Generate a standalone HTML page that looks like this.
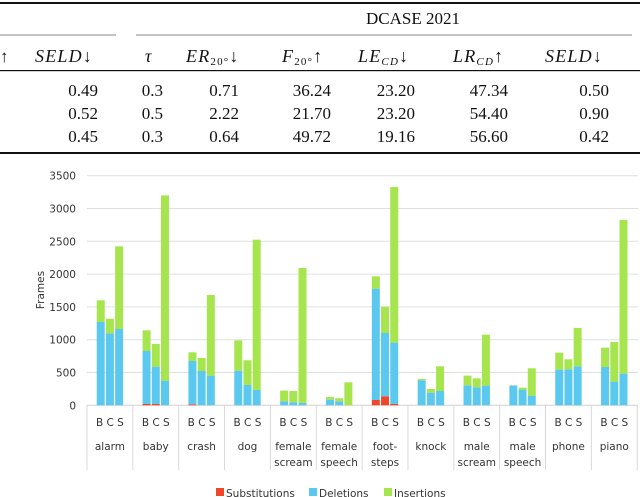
<!DOCTYPE html>
<html><head><meta charset="utf-8"><style>
body{margin:0;background:#fff;}
svg{display:block;}
.t{font-family:"Liberation Serif",serif;font-size:17px;fill:#111;}
.i{font-style:italic;letter-spacing:1.2px;font-size:18px;}
.c{font-family:"DejaVu Sans","Liberation Sans",sans-serif;font-size:10.5px;fill:#333;}
</style></head><body>
<svg id="root" width="640" height="497" viewBox="0 0 640 497">
<g>
<rect x="0" y="2" width="640" height="2" fill="#111"/>
<text class="t" x="413" y="24" text-anchor="middle">DCASE 2021</text>
<rect x="0" y="34.5" width="116" height="1" fill="#888"/>
<rect x="136" y="34.5" width="496" height="1" fill="#888"/>
<g>
<text class="t" x="0" y="62">↑</text>
<text class="t i" x="35" y="62">SELD<tspan font-style="normal">↓</tspan></text>
<text class="t i" x="145" y="62">τ</text>
<text class="t i" x="186" y="62">ER<tspan font-size="11" dy="3" font-style="normal">20°</tspan><tspan dy="-3" font-style="normal">↓</tspan></text>
<text class="t i" x="282" y="62">F<tspan font-size="11" dy="3" font-style="normal">20°</tspan><tspan dy="-3" font-style="normal">↑</tspan></text>
<text class="t i" x="358" y="62">LE<tspan font-size="11" dy="3">CD</tspan><tspan dy="-3" font-style="normal">↓</tspan></text>
<text class="t i" x="453" y="62">LR<tspan font-size="11" dy="3">CD</tspan><tspan dy="-3" font-style="normal">↑</tspan></text>
<text class="t i" x="545" y="62">SELD<tspan font-style="normal">↓</tspan></text>
</g>
<rect x="0" y="70" width="640" height="1.2" fill="#111"/>
<g text-anchor="end">
<text class="t" x="98" y="96">0.49</text><text class="t" x="163" y="96">0.3</text><text class="t" x="239" y="96">0.71</text><text class="t" x="331" y="96">36.24</text><text class="t" x="415" y="96">23.20</text><text class="t" x="508" y="96">47.34</text><text class="t" x="609" y="96">0.50</text>
<text class="t" x="98" y="119">0.52</text><text class="t" x="163" y="119">0.5</text><text class="t" x="239" y="119">2.22</text><text class="t" x="331" y="119">21.70</text><text class="t" x="415" y="119">23.20</text><text class="t" x="508" y="119">54.40</text><text class="t" x="609" y="119">0.90</text>
<text class="t" x="98" y="142">0.45</text><text class="t" x="163" y="142">0.3</text><text class="t" x="239" y="142">0.64</text><text class="t" x="331" y="142">49.72</text><text class="t" x="415" y="142">19.16</text><text class="t" x="508" y="142">56.60</text><text class="t" x="609" y="142">0.42</text>
</g>
<rect x="0" y="152" width="640" height="2" fill="#111"/>
</g>
<g id="chart"></g>
</svg>
<script>
const categories=["alarm","baby","crash","dog","female\nscream","female\nspeech","foot-\nsteps","knock","male\nscream","male\nspeech","phone","piano"];
const systems=["B","C","S"];
const subs=[[0,0,0],[20,20,0],[15,0,0],[0,0,0],[0,0,0],[0,0,0],[81,137,20],[0,0,0],[0,0,0],[0,0,0],[0,0,0],[0,0,0]];
const dels=[[1270,1097,1163],[808,569,376],[661,523,452],[528,310,234],[61,46,36],[86,61,0],[1697,965,935],[381,193,218],[305,274,300],[300,239,147],[544,549,594],[584,361,483]];
const ins=[[330,223,1260],[315,346,2824],[132,198,1229],[462,376,2291],[163,172,2057],[41,46,350],[188,402,2372],[20,56,376],[147,137,777],[5,30,417],[259,152,585],[295,604,2341]];
const yTicks=[0,500,1000,1500,2000,2500,3000,3500];
const legendLabels=["Substitutions","Deletions","Insertions"];
const colors=["#f0462a","#5bc8f0","#a6e54e"];
const NS="http://www.w3.org/2000/svg";
const g=document.getElementById('chart');
const X0=87,GW=45.85,Y0=405.3,YMAX=3500,YTOP=175.7;
const y=v=>Y0-(v/YMAX)*(Y0-YTOP);
const gx=i=>X0+i*GW;
function mk(t,a,txt){const e=document.createElementNS(NS,t);for(const k in a)e.setAttribute(k,a[k]);if(txt!==undefined)e.textContent=txt;g.appendChild(e);return e;}
yTicks.forEach(v=>{
  const l=mk('line',{x1:X0,x2:638,y1:y(v),y2:y(v),stroke:v===0?'#d0d0d0':'#e0e0e0','stroke-width':1});
  
  
  const t=mk('text',{x:76,y:y(v)+4,'text-anchor':'end',class:'c'},String(v));
  
  
});
const yt=mk('text',{x:0,y:0,class:'c','text-anchor':'middle',transform:'translate(44,290) rotate(-90)'},'Frames');


for(let i=0;i<=categories.length;i++){
  const l=mk('line',{x1:gx(i),x2:gx(i),y1:Y0,y2:470,stroke:'#d8d8d8','stroke-width':1});
  
  
}
const BW=8,BG=1.2;
categories.forEach((c,i)=>{
  const off=(GW-(3*BW+2*BG))/2;
  systems.forEach((s,j)=>{
    const bx=gx(i)+off+j*(BW+BG);
    let base=0;
    [subs[i][j],dels[i][j],ins[i][j]].forEach((v,k)=>{
      if(v<=0)return;
      const r=mk('rect',{x:bx,y:y(base+v),width:BW,height:y(base)-y(base+v),fill:colors[k]});
      
      
      base+=v;
    });
  });
  const st=mk('text',{x:gx(i)+GW/2,y:426,'text-anchor':'middle',class:'c'},systems.join(' '));
  
  
  c.split('\n').forEach((line,k)=>{
    const t=mk('text',{x:gx(i)+GW/2,y:450+k*16,'text-anchor':'middle',class:'c'},line);
    
    
  });
});
const lx=[216,309,384];
legendLabels.forEach((lab,k)=>{
  const r=mk('rect',{x:lx[k],y:488,width:8,height:8,fill:colors[k]});
  
  
  const t=mk('text',{x:lx[k]+10,y:497,class:'c'},lab);
  
  
});
</script>
</body></html>
